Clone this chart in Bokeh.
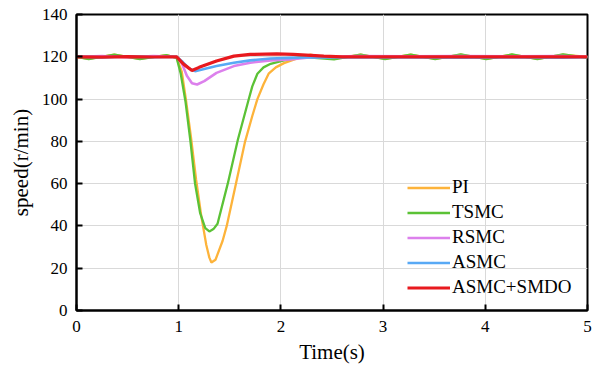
from bokeh.plotting import figure
from bokeh.models import Legend, LegendItem, FixedTicker, Range1d
from bokeh.embed import file_html
from bokeh.resources import INLINE

# ---- data ----
pi_t = [0.00, 0.12, 0.37, 0.62, 0.88, 0.98, 1.03, 1.07, 1.12, 1.17, 1.22, 1.27, 1.30, 1.32,
        1.36, 1.43, 1.47, 1.56, 1.65, 1.72, 1.77, 1.83, 1.88, 1.95, 2.03, 2.16, 2.29, 2.52,
        2.78, 3.02, 3.27, 3.51, 3.76, 4.01, 4.26, 4.51, 4.76, 5.00]
pi_v = [120, 119, 121, 119, 120.8, 119.5, 113, 100, 82, 62, 45, 31, 25, 22.7,
        24, 33, 40, 60, 80, 92, 100, 107, 112, 115, 117, 119.2, 121, 119,
        121, 119, 121, 119, 121, 119, 121, 119, 121, 120]

tsmc_t = [0.00, 0.12, 0.37, 0.62, 0.88, 0.98, 1.02, 1.066, 1.115, 1.16, 1.21, 1.26, 1.30,
          1.34, 1.38, 1.48, 1.58, 1.63, 1.68, 1.72, 1.77, 1.83, 1.90, 2.03, 2.20, 2.52,
          2.78, 3.02, 3.27, 3.51, 3.76, 4.01, 4.26, 4.51, 4.76, 5.00]
tsmc_v = [120, 118.9, 121, 118.9, 120.8, 119.5, 112, 99, 80, 60, 46, 39, 37.4,
          38.5, 41, 60, 81, 90, 99, 106, 112, 115, 116.7, 118.3, 120, 118.8,
          121, 118.9, 121, 118.9, 121.1, 118.9, 121.1, 118.9, 121.1, 119.5]

rsmc_t = [0.00, 0.25, 0.50, 0.75, 0.98, 1.03, 1.08, 1.13, 1.18, 1.25, 1.37, 1.54, 1.70,
          1.90, 2.09, 2.30, 2.75, 3.25, 3.75, 4.25, 4.75, 5.00]
rsmc_v = [120, 120.4, 119.8, 120.3, 120, 117, 111, 107.5, 106.9, 108.5, 112.4, 115.6, 117.2,
          118.3, 118.7, 119.8, 120.3, 120.2, 120.3, 120.2, 120.3, 120]

asmc_t = [0.00, 0.25, 0.50, 0.75, 0.98, 1.04, 1.10, 1.16, 1.25, 1.37, 1.54, 1.70, 1.90,
          2.10, 2.30, 2.75, 3.25, 3.75, 4.25, 4.75, 5.00]
asmc_v = [120, 119.7, 120.2, 119.8, 120, 117.5, 114.5, 113.2, 114.2, 115.6, 117.2, 118.3, 119.2,
          119.5, 119.8, 119.7, 119.7, 119.6, 119.7, 119.6, 119.8]

smdo_t = [0.00, 0.25, 0.50, 0.75, 0.98, 1.05, 1.13, 1.20, 1.37, 1.54, 1.70, 1.96, 2.12,
          2.42, 2.60, 3.00, 3.50, 4.00, 4.50, 5.00]
smdo_v = [120, 119.8, 120.1, 119.9, 120, 116.4, 113.5, 115, 118, 120.3, 121.1, 121.4, 121.1,
          120.3, 120, 120, 120, 120, 120, 120]

x_ticks = [0, 1, 2, 3, 4, 5]
y_ticks = [0, 20, 40, 60, 80, 100, 120, 140]

names = ["PI", "TSMC", "RSMC", "ASMC", "ASMC+SMDO"]
colors = ["#FDB33A", "#5BC236", "#DC80EC", "#58A9F5", "#E8191E"]

FONT = "Liberation Serif"

p = figure(width=600, height=368, output_backend="svg", toolbar_location=None,
           x_range=Range1d(0, 5), y_range=Range1d(0, 140),
           min_border_left=76, min_border_right=13, min_border_top=14, min_border_bottom=58)

p.outline_line_color = "black"
p.outline_line_width = 2
p.background_fill_color = "white"
p.border_fill_color = "white"

series = [(pi_t, pi_v), (tsmc_t, tsmc_v), (rsmc_t, rsmc_v), (asmc_t, asmc_v), (smdo_t, smdo_v)]
widths = [2.3, 2.3, 2.6, 2.6, 3.2]
renderers = []
for (t, v), c, w in zip(series, colors, widths):
    renderers.append(p.line(t, v, line_color=c, line_width=w))

p.xaxis.ticker = FixedTicker(ticks=x_ticks)
p.yaxis.ticker = FixedTicker(ticks=y_ticks)
for ax in (p.xaxis, p.yaxis):
    ax.axis_line_color = "black"
    ax.axis_line_width = 2
    ax.major_tick_in = 6
    ax.major_tick_out = 0
    ax.major_tick_line_width = 2
    ax.minor_tick_line_color = None
    ax.major_label_text_font = FONT
    ax.major_label_text_font_size = "17px"
    ax.major_label_text_color = "black"
    ax.axis_label_text_font = FONT
    ax.axis_label_text_font_size = "21px"
    ax.axis_label_text_font_style = "normal"
    ax.axis_label_text_color = "black"
p.xaxis.axis_label = "Time(s)"
p.yaxis.axis_label = "speed(r/min)"
p.xaxis.major_label_standoff = 10
p.yaxis.major_label_standoff = 9
p.xaxis.axis_label_standoff = 5
p.yaxis.axis_label_standoff = 6

p.xgrid.grid_line_color = "#d9d9d9"
p.ygrid.grid_line_color = "#d9d9d9"
p.xgrid.grid_line_width = 1
p.ygrid.grid_line_width = 1

legend = Legend(items=[LegendItem(label=n, renderers=[r]) for n, r in zip(names, renderers)],
                location=(331, 12))
legend.padding = 0
legend.margin = 0
legend.spacing = 3
legend.glyph_width = 43
legend.glyph_height = 21
legend.label_height = 21
legend.label_standoff = 2
legend.label_text_font = FONT
legend.label_text_font_size = "19px"
legend.label_text_color = "black"
legend.border_line_color = None
legend.background_fill_alpha = 0
p.add_layout(legend, "center")

open("out.html", "w").write(file_html(p, INLINE))
